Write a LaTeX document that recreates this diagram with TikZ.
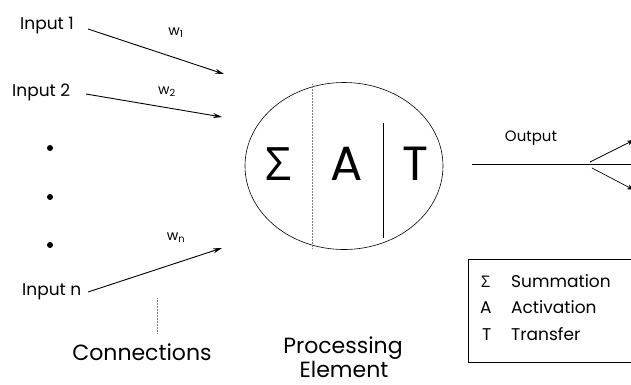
\documentclass[tikz,border=0pt]{standalone}
\usepackage{fontspec}
\setmainfont{Poppins}
\newfontfamily\grk{Open Sans}
\usetikzlibrary{shapes.geometric,arrows.meta}
\begin{document}
\begin{tikzpicture}[x=1pt,y=-1pt,
  lbl/.style={inner sep=0pt, anchor=base west, font=\fontsize{17}{19}\selectfont},
  wlbl/.style={inner sep=0pt, font=\fontsize{14}{15}\selectfont},
  big/.style={inner sep=0pt, font=\fontsize{48}{52}\selectfont},
  captxt/.style={inner sep=0pt, font=\fontsize{22}{23}\selectfont},
  leg/.style={inner sep=0pt, anchor=base west, font=\fontsize{17}{19}\selectfont},
  conn/.style={line width=0.9pt, -{Stealth[length=9pt,width=5pt]}},
  dotp/.style={circle, fill, inner sep=0pt, minimum size=6pt}]
\useasboundingbox (0,0) rectangle (631,384);
\clip (0,0) rectangle (631,384);
% inputs
\node[lbl] (in1) at (20,29) {Input 1};
\node[lbl] (in2) at (12,96) {Input 2};
\node[lbl] (inn) at (22,295) {Input n};
\node[dotp] (d1) at (50,148) {};
\node[dotp] (d2) at (50,197) {};
\node[dotp] (d3) at (50,245) {};
\coordinate (s1) at (88,29);
\coordinate (s2) at (86,94);
\coordinate (sn) at (88,292);
\coordinate (e1) at (224,74);
\coordinate (e2) at (222,117);
\coordinate (en) at (222,248);
\draw[conn] (s1) -- (e1);
\draw[conn] (s2) -- (e2);
\draw[conn] (sn) -- (en);
\node[wlbl] (w1) at (176,33) {w\textsubscript{1}};
\node[wlbl] (w2) at (167,92) {w\textsubscript{2}};
\node[wlbl] (wn) at (176,238) {w\textsubscript{n}};
% connections label
\node[captxt] (connl) at (142,352) {Connections};
\coordinate (ct) at (157,298);
\coordinate (cb) at (157,334);
\draw[densely dotted, line width=0.5pt, gray] (ct) -- (cb);
% processing element
\node[ellipse, draw, line width=0.6pt, minimum width=198pt, minimum height=167pt, inner sep=0pt] (pe) at (344,166) {};
\coordinate (v1t) at (312,84);
\coordinate (v1b) at (312,249);
\coordinate (v2t) at (383,123);
\coordinate (v2b) at (383,238);
\draw[densely dotted, line width=0.5pt, gray] (v1t) -- (v1b);
\draw[line width=0.5pt] (v2t) -- (v2b);
\node[big, font=\grk\fontsize{46}{50}\selectfont] (sig) at (279,164) {Σ};
\node[big] (act) at (347,164) {A};
\node[big] (tra) at (415,164) {T};
\node[captxt] (pel1) at (343,348) {Processing};
\node[captxt] (pel2) at (344,369) {Element};
% output
\coordinate (os) at (472,164);
\coordinate (oe) at (640,164);
\coordinate (bs1) at (590,162);
\coordinate (bs2) at (592,168);
\coordinate (be1) at (634,140);
\coordinate (be2) at (634,190);
\draw[line width=0.7pt] (os) -- (oe);
\draw[line width=0.7pt, -{Stealth[length=7pt,width=5pt]}] (bs1) -- (be1);
\draw[line width=0.7pt, -{Stealth[length=7pt,width=5pt]}] (bs2) -- (be2);
\node[wlbl, font=\fontsize{15}{17}\selectfont] (outl) at (531,138) {Output};
% legend
\coordinate (lb1) at (660,259);
\coordinate (lb2) at (468,259);
\coordinate (lb3) at (468,362);
\coordinate (lb4) at (660,362);
\draw[line width=0.6pt] (lb1) -- (lb2) -- (lb3) -- (lb4);
\node[leg, font=\grk\fontsize{16}{18}\selectfont] (ls) at (481,287) {Σ};
\node[leg] (la) at (480,313) {A};
\node[leg] (lt) at (482,340) {T};
\node[leg] (lst) at (511,287) {Summation};
\node[leg] (lat) at (511,313) {Activation};
\node[leg] (ltt) at (511,340) {Transfer};
\end{tikzpicture}
\end{document}
